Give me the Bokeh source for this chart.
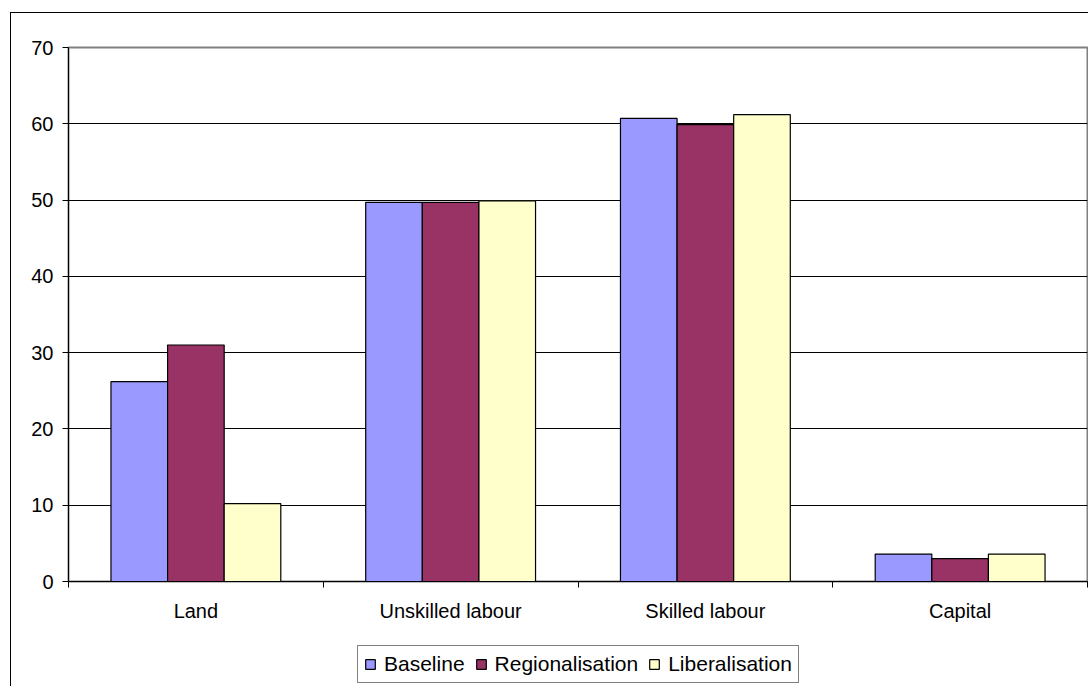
from bokeh.plotting import figure
from bokeh.layouts import column
from bokeh.models import (Range1d, FixedTicker, Legend, LegendItem)
from bokeh.embed import file_html
from bokeh.resources import INLINE

categories = ["Land", "Unskilled labour", "Skilled labour", "Capital"]
series_names = ["Baseline", "Regionalisation", "Liberalisation"]
baseline = [26.2, 49.7, 60.7, 3.6]
regionalisation = [31.0, 49.7, 59.9, 3.0]
liberalisation = [10.2, 49.9, 61.2, 3.6]
colors = ["#9999FF", "#993366", "#FFFFCC"]
y_ticks = [0, 10, 20, 30, 40, 50, 60, 70]

FONT = "Liberation Sans"

p = figure(width=1078, height=624, output_backend="svg", toolbar_location=None,
           x_range=Range1d(0, len(categories)), y_range=Range1d(0, 70),
           min_border_left=57, min_border_right=2, min_border_top=34, min_border_bottom=56)
p.margin = (12, 0, 0, 10)
p.styles = {"border-top": "1px solid black", "border-left": "1px solid black", "box-sizing": "border-box"}
p.background_fill_color = "white"
p.border_fill_color = "white"
p.outline_line_color = "#808080"
p.outline_line_width = 2

bar_w = 1 / 4.5
offsets = [-bar_w, 0.0, bar_w]
for vals, off, col in zip([baseline, regionalisation, liberalisation], offsets, colors):
    xs = [i + 0.5 + off for i in range(len(categories))]
    p.vbar(x=xs, top=vals, width=bar_w, bottom=0, fill_color=col,
           line_color="black", line_width=1.2)

# Y axis
p.yaxis.ticker = FixedTicker(ticks=y_ticks, minor_ticks=[])
p.yaxis.major_label_text_font = FONT
p.yaxis.major_label_text_font_size = "20px"
p.yaxis.major_label_text_color = "black"
p.yaxis.major_tick_out = 6
p.yaxis.major_tick_in = 0
p.yaxis.minor_tick_out = 0
p.yaxis.minor_tick_in = 0
p.yaxis.major_label_standoff = 9
p.yaxis.axis_line_color = "black"
p.yaxis.major_tick_line_color = "black"

# X axis: labels at centers, ticks at boundaries
centers = [i + 0.5 for i in range(len(categories))]
p.xaxis.ticker = FixedTicker(ticks=centers, minor_ticks=list(range(len(categories) + 1)))
p.xaxis.major_label_overrides = {c: lab for c, lab in zip(centers, categories)}
p.xaxis.major_tick_out = 0
p.xaxis.major_tick_in = 0
p.xaxis.minor_tick_out = 6
p.xaxis.minor_tick_in = 0
p.xaxis.minor_tick_line_color = "black"
p.xaxis.major_label_text_font = FONT
p.xaxis.major_label_text_font_size = "20px"
p.xaxis.major_label_text_color = "black"
p.xaxis.major_label_standoff = 12
p.xaxis.axis_line_color = "black"

p.xgrid.grid_line_color = None
p.ygrid.ticker = FixedTicker(ticks=y_ticks)
p.ygrid.grid_line_color = "black"
p.ygrid.grid_line_width = 1

# Legend strip below the chart (proxy renderers lie outside its visible range)
pl = figure(width=1078, height=50, output_backend="svg", toolbar_location=None,
            x_range=Range1d(0, 1), y_range=Range1d(0, 1),
            x_axis_location=None, y_axis_location=None,
            min_border_left=0, min_border_right=0, min_border_top=0, min_border_bottom=0)
pl.margin = (0, 0, 0, 10)
pl.styles = {"border-left": "1px solid black", "box-sizing": "border-box"}
pl.grid.visible = False
pl.outline_line_color = None
pl.background_fill_color = "white"
pl.border_fill_color = "white"
leg_renderers = []
for col in colors:
    leg_renderers.append(pl.vbar(x=[-5], top=[-5], bottom=[-6], width=0.1, fill_color=col,
                                 line_color="black", line_width=1.2))

legend = Legend(items=[LegendItem(label=n, renderers=[r]) for n, r in zip(series_names, leg_renderers)],
                orientation="horizontal", location=(289, 3),
                label_text_font=FONT, label_text_font_size="21px", label_text_color="black",
                glyph_width=12, glyph_height=12, label_standoff=8, spacing=10,
                padding=6, margin=0, border_line_color="black", border_line_width=1,
                background_fill_color="white", background_fill_alpha=1.0,
                label_height=20)
pl.add_layout(legend, "center")

layout = column(p, pl, spacing=0)
open("out.html", "w").write(file_html(layout, INLINE))
